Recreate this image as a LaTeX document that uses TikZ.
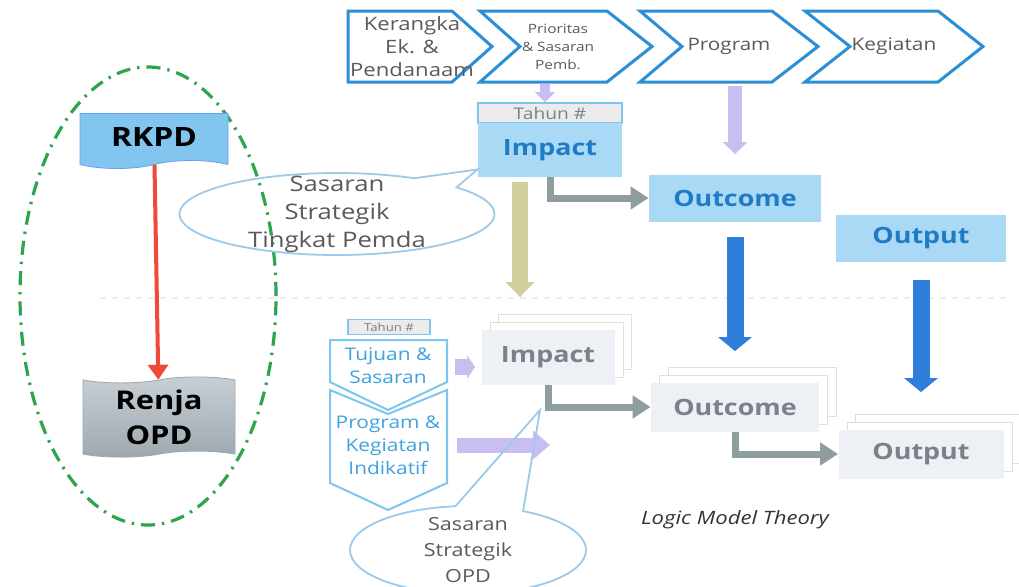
\documentclass[tikz,border=0pt]{standalone}
\usepackage{fontspec}
\setmainfont[FakeStretch=1.2]{Open Sans}
\usetikzlibrary{arrows.meta,shapes.symbols,shapes.callouts,shadows}

\definecolor{chevblue}{HTML}{2B8FD6}
\definecolor{boxblue}{HTML}{AAD9F6}
\definecolor{textblue}{HTML}{1F7CC4}
\definecolor{rkpdblue}{HTML}{82C6EF}
\definecolor{paleblue}{HTML}{7CC6F0}
\definecolor{lowtext}{HTML}{3EA3DD}
\definecolor{lavender}{HTML}{C8BEF2}
\definecolor{khaki}{HTML}{D0D19E}
\definecolor{arrowgray}{HTML}{8E9E9E}
\definecolor{deepblue}{HTML}{2E7FDC}
\definecolor{redline}{HTML}{F0493A}
\definecolor{greendash}{HTML}{2EA44C}
\definecolor{boxgray}{HTML}{EDF0F4}
\definecolor{graytext}{HTML}{7B8189}
\definecolor{callblue}{HTML}{9CCAEA}
\definecolor{darktext}{HTML}{5A5A5A}
\definecolor{renjatop}{HTML}{C8D0D6}
\definecolor{renjabot}{HTML}{9DA7AE}

\tikzset{
  chevron/.style={draw=chevblue, line width=1.5pt, line join=miter},
  chevtext/.style={text=darktext, align=center, inner sep=0pt, font=\fontsize{9.2}{11.5}\selectfont},
  lowchevron/.style={draw=paleblue, line width=1pt},
  lowtext/.style={text=lowtext, align=center, inner sep=0pt, font=\fontsize{8.7}{11.5}\selectfont},
  bluebox/.style={fill=boxblue, minimum height=23.5pt, inner sep=0pt,
    text=textblue, font=\bfseries\fontsize{11.2}{13}\selectfont},
  graybox/.style={fill=boxgray, minimum height=24.5pt, inner sep=0pt,
    text=graytext, font=\bfseries\fontsize{11.2}{13}\selectfont,
    copy shadow={shadow xshift=8.5pt, shadow yshift=7.5pt, fill=white, draw=gray!25, line width=0.4pt},
    copy shadow={shadow xshift=4.25pt, shadow yshift=3.75pt, fill=white, draw=gray!25, line width=0.4pt}},
  tahunbox/.style={fill=black!8, draw=paleblue, line width=0.8pt, inner sep=0pt,
    text=graytext},
  callbox/.style={ellipse callout, draw=callblue, line width=0.9pt, inner sep=0pt},
  calltext/.style={align=center, text=darktext},
  lavarrow/.style={draw=lavender, line width=7pt, -{Triangle[width=12pt,length=6pt]}},
  khakiarrow/.style={draw=khaki, line width=8pt, -{Triangle[width=14pt,length=7.5pt]}},
  grayarrow/.style={draw=arrowgray, line width=3.5pt, -{Triangle[width=11pt,length=9pt]}},
  bluearrow/.style={draw=deepblue, line width=8.5pt, -{Triangle[width=16.5pt,length=7pt]}},
}

\begin{document}
\begin{tikzpicture}[x=0.5pt,y=-0.5pt]
\useasboundingbox[fill=white] (0,0) rectangle (1019,586);
% faint split line
\draw[gray!15, dashed, line width=0.8pt] (100,298) -- (1010,298);

% RKPD -> Renja OPD
\draw[greendash, line width=1.6pt, dash pattern=on 7pt off 3.5pt on 1.2pt off 3.5pt]
  (148,296) ellipse [x radius=64pt, y radius=114.5pt];
\node[shape=tape, tape bend top=none, tape bend height=4pt, fill=rkpdblue, draw=rkpdblue!80!blue,
  line width=0.4pt, minimum width=74pt, minimum height=27.5pt,
  font=\bfseries\fontsize{13.3}{15}\selectfont] (rkpd) at (154,137) {RKPD};
\node[shape=tape, tape bend height=3pt, top color=renjatop, bottom color=renjabot, draw=renjabot,
  line width=0.4pt, minimum width=76pt, minimum height=32pt, align=center,
  font=\bfseries\fontsize{12.9}{17.5}\selectfont] (renja) at (159,417) {Renja\\OPD};
\draw[redline, line width=2pt, -{Triangle[width=10pt,length=7.5pt]}] (rkpd) -- (renja);

% top chevrons
\draw[chevron] (348,11) -- (452,11) -- (492,46.5) -- (452,82) -- (348,82) -- cycle;
\draw[chevron] (480,11) -- (607,11) -- (652,46.5) -- (607,82) -- (480,82) -- (520,46.5) -- cycle;
\draw[chevron] (640,11) -- (772,11) -- (818,46.5) -- (772,82) -- (640,82) -- (682,46.5) -- cycle;
\draw[chevron] (805,11) -- (938,11) -- (983,46.5) -- (938,82) -- (805,82) -- (850,46.5) -- cycle;
\coordinate (chevbase) at (0,84);
\node[chevtext] (kerangka) at (412,47) {Kerangka\\Ek. \&\\Pendanaam};
\node[chevtext, font=\fontsize{6.4}{9}\selectfont] (prioritas) at (558,47) {Prioritas\\\& Sasaran\\Pemb.};
\node[chevtext, font=\fontsize{8.6}{10}\selectfont] (program) at (729,46) {Program};
\node[chevtext, font=\fontsize{8.7}{10}\selectfont] (kegiatan) at (894,46) {Kegiatan};

% upper logic model
\node[tahunbox, minimum width=72pt, minimum height=10pt, font=\fontsize{8}{9}\selectfont]
  (tahun1) at (550,113) {Tahun \#};
\node[bluebox, minimum width=72pt, minimum height=27pt] (impact1) at (550,150) {Impact};
\node[bluebox, minimum width=86pt] (outcome1) at (735,198) {Outcome};
\node[bluebox, minimum width=85pt] (output1) at (921,238) {Output};

\draw[lavarrow, line width=5pt, -{Triangle[width=10pt,length=5pt]}]
  ([xshift=-2.5pt]tahun1.north |- chevbase) -- ([xshift=-2.5pt]tahun1.north);
\draw[lavarrow] ([yshift=-1pt]outcome1.north |- chevbase) -- ([yshift=10pt]outcome1.north);
\draw[grayarrow] (impact1.south) |- (outcome1.west);

% lower logic model
\node[tahunbox, minimum width=41pt, minimum height=7.5pt, font=\fontsize{5.5}{6}\selectfont]
  (tahun2) at (389,327) {Tahun \#};
\draw[lowchevron] (330,340) -- (447,340) -- (447,382) -- (388,410) -- (330,382) -- cycle;
\draw[lowchevron] (330,390) -- (388,414) -- (447,390) -- (447,483) -- (388,510) -- (330,483) -- cycle;
\node[lowtext] (tujuan) at (388,366) {Tujuan \&\\Sasaran};
\node[lowtext] (progkeg) at (388,445) {Program \&\\Kegiatan\\Indikatif};
\node[graybox, minimum width=66.5pt, minimum height=27.5pt] (impact2) at (548,357) {Impact};
\node[graybox, minimum width=84pt] (outcome2) at (735,407) {Outcome};
\node[graybox, minimum width=82.5pt] (output2) at (921,454) {Output};

\draw[khakiarrow] ([xshift=-15pt,yshift=-2.5pt]impact1.south) -- ([xshift=-14pt,yshift=16pt]impact2.north);
\draw[bluearrow] ([yshift=-7.5pt]outcome1.south) -- ([yshift=15.5pt]outcome2.north);
\draw[bluearrow] ([yshift=-9pt]output1.south) -- ([yshift=18.5pt]output2.north);
\draw[grayarrow] (impact2.south) |- (outcome2.west);
\draw[grayarrow] (outcome2.south) |- (output2.west);
\coordinate (tujuanR) at (455,367);
\coordinate (progkegR) at (457,445);
\draw[lavarrow, line width=8pt, -{Triangle[width=11.5pt,length=4pt]}, shorten >=3pt]
  (tujuanR) -- (tujuanR -| impact2.west);
\draw[lavarrow, line width=7.5pt, -{Triangle[width=14pt,length=8.5pt]}]
  (progkegR) -- +(46.5pt,0);

% callouts
\node[callbox, minimum width=157.5pt, minimum height=41pt, callout absolute pointer=(impact1.195),
  callout pointer arc=20,
  label={[calltext, font=\fontsize{10.7}{14}\selectfont]center:{Sasaran\\Strategik\\Tingkat Pemda}}]
  (pemda) at (337,214) {};
\coordinate (opdtip) at (540,410);
\node[callbox, minimum width=118pt, minimum height=44pt, callout absolute pointer=(opdtip),
  callout pointer arc=34,
  label={[calltext, font=\fontsize{9}{13}\selectfont]center:{Sasaran\\Strategik\\OPD}}]
  (opd) at (468,550) {};

\node[text=black!80, font=\itshape\fontsize{9.2}{11}\selectfont] (logic) at (735,520) {Logic Model Theory};
\end{tikzpicture}
\end{document}
